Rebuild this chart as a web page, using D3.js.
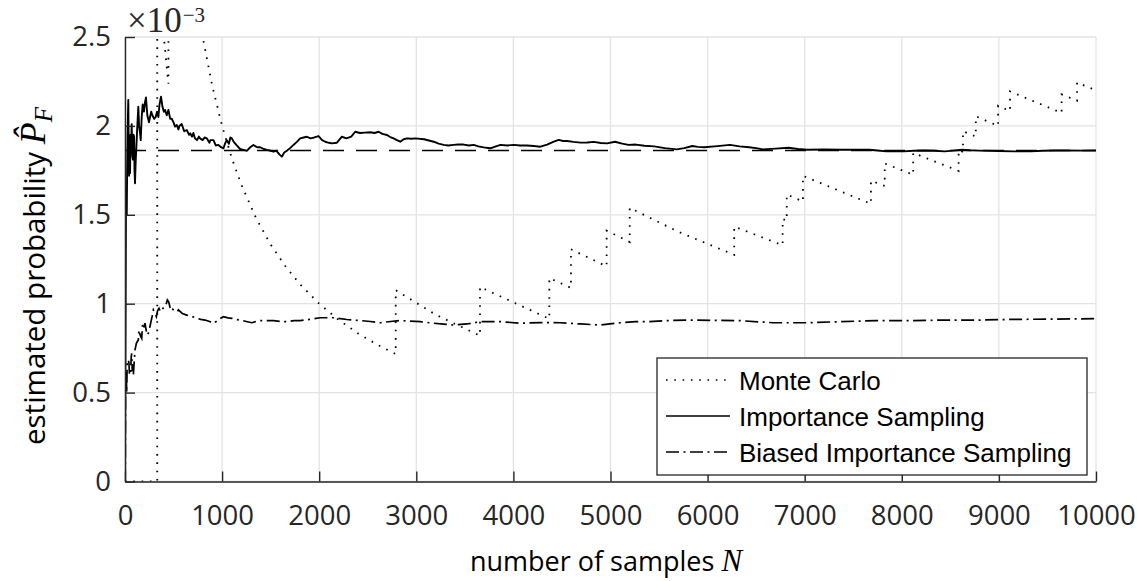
<!DOCTYPE html>
<html>
<head>
<meta charset="utf-8">
<script src="https://cdn.jsdelivr.net/npm/d3@7"></script>
<style>
  body { margin: 0; background: #fff; }
  svg { display: block; }
</style>
</head>
<body>
<div id="chart"></div>
<script>
// Values in units of 1e-3

// Monte Carlo estimate, staircase (N, P)
const mcPoints = [
  [0, 0], [332, 0], [332, 3.012], [360, 2.778], [400, 2.5], [447, 2.237],
  [447, 4.474], [550, 3.636], [650, 3.077], [750, 2.667], [800, 2.5],
  [900, 2.222], [1000, 2.0], [1100, 1.818], [1200, 1.667], [1350, 1.481],
  [1500, 1.333], [1650, 1.212], [1800, 1.111], [2000, 1.0], [2200, 0.909],
  [2400, 0.833], [2600, 0.769], [2788, 0.717], [2788, 1.076], [3200, 0.938],
  [3656, 0.82], [3656, 1.094], [4370, 0.915], [4370, 1.144], [4593, 1.089],
  [4593, 1.306], [4960, 1.21], [4960, 1.411], [5198, 1.347], [5198, 1.539],
  [5700, 1.404], [6274, 1.275], [6274, 1.434], [6773, 1.329], [6773, 1.476],
  [6815, 1.467], [6815, 1.614], [6982, 1.575], [6982, 1.719], [7682, 1.562],
  [7682, 1.692], [7824, 1.662], [7824, 1.789], [8117, 1.725], [8117, 1.848],
  [8585, 1.747], [8585, 1.864], [8630, 1.854], [8630, 1.97], [8762, 1.94],
  [8762, 2.054], [8992, 2.0], [8992, 2.113], [9115, 2.084], [9115, 2.194],
  [9646, 2.073], [9646, 2.177], [9805, 2.142], [9805, 2.244], [10000, 2.2]
];

// Importance sampling estimate
const isPoints = [
  [1, 0], [4, 0.6], [7, 1.1], [10, 1.55], [14, 1.63], [18, 1.5], [22, 1.75],
  [26, 1.95], [30, 2.05], [34, 2.146], [38, 1.9], [42, 1.72], [46, 1.8],
  [52, 1.735], [57, 1.95], [62, 1.88], [69, 2.01], [75, 1.83], [82, 1.81],
  [88, 1.95], [93, 1.94], [98, 1.75], [103, 1.677], [110, 1.8], [117, 1.883],
  [127, 2.0], [137, 2.108], [145, 2.0], [155, 1.96], [162, 1.92], [172, 2.05],
  [182, 2.12], [195, 2.08], [205, 2.13], [216, 2.16], [230, 2.06], [247, 2.02],
  [258, 2.05], [270, 2.08], [282, 2.06], [300, 2.04], [316, 2.05], [330, 2.08],
  [344, 2.05], [355, 2.12], [371, 2.164], [385, 2.11], [400, 2.08], [412, 2.09],
  [430, 2.06], [447, 2.09], [465, 2.04], [481, 2.04], [500, 2.02], [515, 1.996],
  [533, 2.005], [550, 1.98], [560, 2.0], [584, 2.01], [610, 1.97], [636, 1.977],
  [660, 1.95], [673, 1.958], [690, 1.94], [704, 1.96], [720, 1.93], [742, 1.92],
  [760, 1.94], [773, 1.93], [800, 1.92], [820, 1.935], [842, 1.93], [870, 1.905],
  [880, 1.92], [911, 1.92], [935, 1.89], [962, 1.893], [990, 1.88], [1014, 1.874],
  [1030, 1.9], [1048, 1.92], [1070, 1.9], [1085, 1.935], [1100, 1.93],
  [1120, 1.91], [1151, 1.89], [1185, 1.87], [1220, 1.865], [1254, 1.86],
  [1290, 1.88], [1323, 1.893], [1360, 1.88], [1392, 1.88], [1430, 1.87],
  [1461, 1.865], [1500, 1.86], [1529, 1.855], [1560, 1.86], [1590, 1.84],
  [1615, 1.827], [1640, 1.85], [1667, 1.86], [1700, 1.875], [1735, 1.893],
  [1770, 1.91], [1804, 1.93], [1840, 1.935], [1873, 1.939], [1910, 1.93],
  [1950, 1.935], [1993, 1.943], [2030, 1.92], [2062, 1.911], [2100, 1.905],
  [2131, 1.902], [2180, 1.905], [2234, 1.939], [2280, 1.93], [2330, 1.94],
  [2371, 1.967], [2420, 1.96], [2470, 1.962], [2526, 1.964], [2570, 1.96],
  [2612, 1.967], [2650, 1.955], [2698, 1.949], [2740, 1.935], [2766, 1.93],
  [2800, 1.92], [2835, 1.911], [2870, 1.925], [2904, 1.93], [2950, 1.928],
  [2990, 1.93], [3080, 1.925], [3179, 1.911], [3230, 1.9], [3282, 1.893],
  [3330, 1.89], [3385, 1.893], [3430, 1.895], [3488, 1.895], [3540, 1.89],
  [3591, 1.893], [3640, 1.885], [3694, 1.879], [3763, 1.874], [3820, 1.885],
  [3866, 1.893], [3940, 1.89], [4003, 1.893], [4070, 1.89], [4141, 1.89],
  [4210, 1.887], [4278, 1.883], [4347, 1.895], [4410, 1.91], [4467, 1.921],
  [4510, 1.915], [4553, 1.915], [4620, 1.91], [4691, 1.906], [4760, 1.907],
  [4828, 1.91], [4900, 1.904], [4966, 1.902], [5046, 1.911], [5120, 1.9],
  [5187, 1.893], [5260, 1.895], [5350, 1.888], [5450, 1.885], [5560, 1.875],
  [5683, 1.868], [5760, 1.875], [5842, 1.887], [5900, 1.882], [5966, 1.88],
  [6100, 1.886], [6231, 1.893], [6330, 1.885], [6426, 1.88], [6500, 1.875],
  [6568, 1.868], [6700, 1.872], [6833, 1.877], [6930, 1.87], [7028, 1.866],
  [7200, 1.867], [7382, 1.866], [7500, 1.866], [7664, 1.866], [7750, 1.862],
  [7841, 1.857], [7930, 1.858], [8017, 1.857], [8120, 1.86], [8230, 1.862],
  [8330, 1.86], [8443, 1.857], [8530, 1.861], [8620, 1.866], [8700, 1.863],
  [8797, 1.861], [9000, 1.859], [9150, 1.857], [9328, 1.857], [9450, 1.86],
  [9575, 1.862], [9700, 1.862], [9858, 1.861], [10000, 1.862]
];

// Biased importance sampling estimate
const bisPoints = [
  [1, 0], [3, 0.08], [5, 0.515], [8, 0.58], [12, 0.627], [18, 0.5], [22, 0.66],
  [28, 0.683], [34, 0.683], [41, 0.665], [46, 0.6], [52, 0.608], [58, 0.61],
  [64, 0.7], [69, 0.72], [75, 0.62], [80, 0.66], [86, 0.6], [93, 0.66],
  [103, 0.74], [117, 0.777], [130, 0.79], [137, 0.796], [144, 0.852],
  [158, 0.82], [172, 0.805], [180, 0.88], [190, 0.86], [206, 0.89], [218, 0.85],
  [230, 0.824], [245, 0.84], [264, 0.89], [280, 0.93], [292, 0.965], [305, 0.95],
  [323, 0.927], [335, 0.96], [350, 0.974], [365, 0.955], [385, 0.97], [400, 0.98],
  [412, 0.983], [425, 1.0], [436, 1.021], [450, 1.01], [470, 0.965], [481, 0.974],
  [510, 0.96], [540, 0.955], [550, 0.965], [590, 0.945], [636, 0.936],
  [680, 0.93], [739, 0.918], [780, 0.912], [825, 0.908], [870, 0.9], [911, 0.89],
  [940, 0.9], [962, 0.91], [1014, 0.927], [1060, 0.92], [1100, 0.918],
  [1150, 0.91], [1186, 0.908], [1250, 0.9], [1306, 0.893], [1350, 0.9],
  [1392, 0.905], [1460, 0.905], [1529, 0.905], [1600, 0.9], [1667, 0.899],
  [1740, 0.905], [1804, 0.905], [1900, 0.912], [2010, 0.921], [2148, 0.921],
  [2285, 0.911], [2423, 0.905], [2529, 0.9], [2629, 0.893], [2735, 0.9],
  [2835, 0.905], [3041, 0.899], [3179, 0.89], [3280, 0.885], [3385, 0.88],
  [3522, 0.886], [3660, 0.899], [3866, 0.899], [4072, 0.89], [4278, 0.894],
  [4485, 0.893], [4691, 0.886], [4897, 0.88], [5103, 0.893], [5258, 0.899],
  [5378, 0.899], [5584, 0.905], [5789, 0.908], [6050, 0.906], [6320, 0.905],
  [6674, 0.893], [7028, 0.893], [7382, 0.899], [7735, 0.905], [8089, 0.905],
  [8443, 0.908], [8797, 0.908], [9150, 0.912], [9504, 0.913], [10000, 0.916]
];

// Reference (exact) probability
const refValue = 1.862;

const xTicks = [0, 1000, 2000, 3000, 4000, 5000, 6000, 7000, 8000, 9000, 10000];
const yTicks = [0, 0.5, 1, 1.5, 2, 2.5];
const yTickLabels = ["0", "0.5", "1", "1.5", "2", "2.5"];
const legendLabels = ["Monte Carlo", "Importance Sampling", "Biased Importance Sampling"];

// Layout
const width = 1137;
const height = 581;
const plot = {left: 125, right: 1096, top: 37, bottom: 481.5};
const axisColor = "#262626";
const gridColor = "#e3e3e3";

const dotted = "1.6 6.7";
const dashed = "21 12";
const dashDot = "13 4.5 2 4.5";

const svg = d3.select("#chart")
  .append("svg")
  .attr("width", width)
  .attr("height", height);

const x = d3.scaleLinear().domain([0, 10000]).range([plot.left, plot.right]);
const y = d3.scaleLinear().domain([0, 2.5]).range([plot.bottom, plot.top]);

// Grid
svg.append("g")
  .selectAll("line")
  .data(xTicks)
  .enter()
  .append("line")
  .attr("x1", (d) => x(d))
  .attr("x2", (d) => x(d))
  .attr("y1", plot.top)
  .attr("y2", plot.bottom)
  .attr("stroke", gridColor)
  .attr("stroke-width", 1.3);

svg.append("g")
  .selectAll("line")
  .data(yTicks)
  .enter()
  .append("line")
  .attr("x1", plot.left)
  .attr("x2", plot.right)
  .attr("y1", (d) => y(d))
  .attr("y2", (d) => y(d))
  .attr("stroke", gridColor)
  .attr("stroke-width", 1.3);

// Clip for data
svg.append("clipPath")
  .attr("id", "plotclip")
  .append("rect")
  .attr("x", plot.left)
  .attr("y", plot.top)
  .attr("width", plot.right - plot.left)
  .attr("height", plot.bottom - plot.top);

const line = d3.line()
  .x((d) => x(d[0]))
  .y((d) => y(d[1]));

const dataG = svg.append("g").attr("clip-path", "url(#plotclip)");

// Reference value
dataG.append("path")
  .datum([[0, refValue], [10000, refValue]])
  .attr("d", line)
  .attr("fill", "none")
  .attr("stroke", "#000")
  .attr("stroke-width", 1.5)
  .attr("stroke-dasharray", dashed);

dataG.append("path")
  .datum(mcPoints)
  .attr("d", line)
  .attr("fill", "none")
  .attr("stroke", "#000")
  .attr("stroke-width", 1.8)
  .attr("stroke-dasharray", dotted);

dataG.append("path")
  .datum(bisPoints)
  .attr("d", line)
  .attr("fill", "none")
  .attr("stroke", "#000")
  .attr("stroke-width", 1.7)
  .attr("stroke-dasharray", dashDot);

dataG.append("path")
  .datum(isPoints)
  .attr("d", line)
  .attr("fill", "none")
  .attr("stroke", "#000")
  .attr("stroke-width", 1.9)
  .attr("stroke-linejoin", "round");

// Axes
const xAxis = d3.axisBottom(x)
  .tickValues(xTicks)
  .tickFormat(d3.format("d"))
  .tickSizeInner(-10)
  .tickSizeOuter(0)
  .tickPadding(0);

const gx = svg.append("g")
  .attr("transform", "translate(0," + plot.bottom + ")")
  .call(xAxis);

gx.selectAll("text")
  .attr("y", 43.5)
  .attr("dy", "0");

const yAxis = d3.axisLeft(y)
  .tickValues(yTicks)
  .tickFormat((d, i) => yTickLabels[i])
  .tickSizeInner(-10)
  .tickSizeOuter(0)
  .tickPadding(14);

svg.append("g")
  .attr("transform", "translate(" + plot.left + ",0)")
  .call(yAxis);

svg.selectAll(".domain")
  .attr("stroke", axisColor)
  .attr("stroke-width", 1.4);
svg.selectAll(".tick line")
  .attr("stroke", axisColor)
  .attr("stroke-width", 1.4);
svg.selectAll(".tick text")
  .attr("fill", axisColor)
  .style("font-family", "'Open Sans', sans-serif")
  .style("font-size", "27.5px");

// Exponent
const expo = svg.append("text")
  .attr("x", 127)
  .attr("y", 32)
  .attr("fill", axisColor)
  .style("font-family", "'Liberation Serif', serif")
  .style("font-size", "35px");
expo.append("tspan").text("×10");
expo.append("tspan")
  .attr("dx", 1)
  .attr("dy", -10)
  .style("font-size", "21px")
  .text("−3");

// Axis labels
const xl = svg.append("text")
  .attr("x", 606)
  .attr("y", 571)
  .attr("text-anchor", "middle")
  .attr("fill", "#000")
  .style("font-family", "'Open Sans', sans-serif")
  .style("font-size", "27px");
xl.append("tspan").text("number of samples ");
xl.append("tspan")
  .style("font-family", "'Liberation Serif', serif")
  .style("font-style", "italic")
  .style("font-size", "31px")
  .text("N");

const yl = svg.append("text")
  .attr("transform", "translate(45,276) rotate(-90)")
  .attr("text-anchor", "middle")
  .attr("fill", "#000")
  .style("font-family", "'Open Sans', sans-serif")
  .style("font-size", "29.5px");
yl.append("tspan").text("estimated probability ");
yl.append("tspan")
  .style("font-family", "'Liberation Serif', serif")
  .style("font-style", "italic")
  .style("font-size", "36px")
  .text("P\u0302");
yl.append("tspan")
  .attr("dy", 7)
  .style("font-family", "'Liberation Serif', serif")
  .style("font-style", "italic")
  .style("font-size", "25px")
  .text("F");

// Legend
const legend = svg.append("g").attr("transform", "translate(657,358)");
legend.append("rect")
  .attr("width", 430)
  .attr("height", 117)
  .attr("fill", "#fff")
  .attr("stroke", axisColor)
  .attr("stroke-width", 1.3);

const legendDash = [dotted, null, dashDot];

const items = legend.selectAll(".item")
  .data(legendLabels)
  .enter()
  .append("g")
  .attr("class", "item")
  .attr("transform", (d, i) => "translate(0," + (22 + i * 36) + ")");

items.append("line")
  .attr("x1", 9)
  .attr("x2", 73)
  .attr("stroke", "#000")
  .attr("stroke-width", 1.6)
  .attr("stroke-dasharray", (d, i) => legendDash[i]);

items.append("text")
  .attr("x", 82)
  .attr("y", 10)
  .attr("fill", "#000")
  .style("font-family", "'Liberation Sans', Arial, sans-serif")
  .style("font-size", "26px")
  .text((d) => d);
</script>
</body>
</html>
